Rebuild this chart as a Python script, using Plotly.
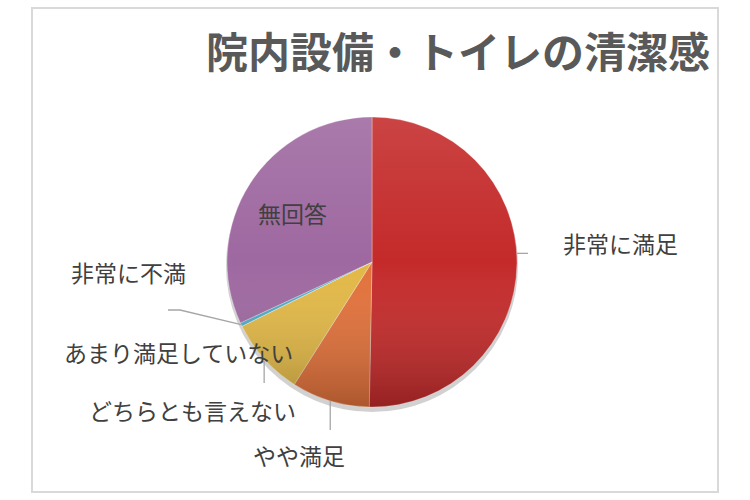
import base64
import math
import plotly.graph_objects as go

# ---------------- data ----------------
categories = ["非常に満足", "やや満足", "どちらとも言えない", "あまり満足していない", "非常に不満", "無回答"]
shares = [50.3, 8.7, 8.7, 0.0, 0.4, 31.9]
colors = ["#C42A2A", "#E2713A", "#E2B846", "#9BBB59", "#4BACC6", "#9E68A0"]
title_text = "院内設備・トイレの清潔感"

# ---------------- geometry (pixels, figure is 750x500 with zero margin) ----------------
W, H = 750, 500
cx, cy, r = 372, 262, 145
dom_x = [(cx - r) / W, (cx + r) / W]
dom_y = [1 - (cy + r) / H, 1 - (cy - r) / H]

fig = go.Figure()

# soft shadow under the pie
fig.add_trace(go.Pie(
    values=[1], labels=["shadow"],
    domain=dict(x=[(cx - r - 1) / W, (cx + r + 1) / W], y=[1 - (cy + r + 6) / H, 1 - (cy - r + 2) / H]),
    marker=dict(colors=["rgba(0,0,0,0.18)"], line=dict(width=0)),
    textinfo="none", hoverinfo="skip", showlegend=False, sort=False,
))

fig.add_trace(go.Pie(
    values=shares, labels=categories,
    domain=dict(x=dom_x, y=dom_y),
    sort=False, direction="clockwise", rotation=0,
    marker=dict(colors=colors, line=dict(color="rgba(255,255,255,0.5)", width=0.6)),
    textinfo="none", showlegend=False,
))

# gradient overlay (light top, dark bottom) like the Excel style
svg = ('<svg xmlns="http://www.w3.org/2000/svg" viewBox="0 0 100 100">'
       '<defs><linearGradient id="g" x1="0" y1="0" x2="0" y2="1">'
       '<stop offset="0" stop-color="#ffffff" stop-opacity="0.12"/>'
       '<stop offset="0.5" stop-color="#ffffff" stop-opacity="0"/>'
       '<stop offset="1" stop-color="#000000" stop-opacity="0.24"/>'
       '</linearGradient></defs>'
       '<circle cx="50" cy="50" r="50" fill="url(#g)"/></svg>')
fig.add_layout_image(dict(
    source="data:image/svg+xml;base64," + base64.b64encode(svg.encode()).decode(),
    xref="paper", yref="paper", x=dom_x[0], y=dom_y[1],
    sizex=dom_x[1] - dom_x[0], sizey=dom_y[1] - dom_y[0],
    xanchor="left", yanchor="top", sizing="stretch", layer="above",
))

# ---------------- labels ----------------
lab_font = dict(family="Noto Sans CJK JP", size=23, color="#404040")


def edge_point(i):
    # point on the pie rim at the middle of slice i
    start = sum(shares[:i])
    mid = (start + shares[i] / 2) / sum(shares) * 2 * math.pi
    return cx + r * math.sin(mid), cy - r * math.cos(mid)


label_pos = {
    "非常に満足": (620, 243),
    "やや満足": (299, 455),
    "どちらとも言えない": (192, 410),
    "あまり満足していない": (178, 352),
    "非常に不満": (128, 272),
    "無回答": (292, 213),
}
for name, (lx, ly) in label_pos.items():
    fig.add_annotation(text=name, x=lx / W, y=1 - ly / H, xref="paper", yref="paper",
                       xanchor="center", yanchor="middle", showarrow=False, font=lab_font)

line_style = dict(color="#A6A6A6", width=1.3)


def leader(points):
    path = "M " + " L ".join(f"{x / W},{1 - y / H}" for x, y in points)
    fig.add_shape(type="path", path=path, xref="paper", yref="paper", line=line_style)


ex, ey = edge_point(0)
leader([(ex, ey - 10), (ex + 11, ey - 10)])
ex, ey = edge_point(1)
leader([(ex, ey), (ex, 430)])
ex, ey = edge_point(2)
leader([(ex, ey + 2), (ex, 383)])
ex, ey = edge_point(4)
leader([(ex, ey), (180, 310), (168, 310)])

# ---------------- title & frame ----------------
fig.add_annotation(text="<b>" + title_text + "</b>", x=712 / W, y=1 - 50 / H, xref="paper", yref="paper",
                   xanchor="right", yanchor="middle", showarrow=False,
                   font=dict(family="Noto Sans CJK JP", size=42, color="#595959"))

fig.add_shape(type="rect", x0=32 / W, x1=718 / W, y0=1 - 492 / H, y1=1 - 8 / H,
              xref="paper", yref="paper", line=dict(color="#D9D9D9", width=2), layer="below")

fig.update_layout(
    width=W, height=H,
    margin=dict(l=0, r=0, t=0, b=0),
    paper_bgcolor="white", plot_bgcolor="white",
)

# the page keeps the default 8px body margin otherwise
fig.write_html("out.html", config={"displayModeBar": False},
               post_script="document.body.style.margin='0';")
